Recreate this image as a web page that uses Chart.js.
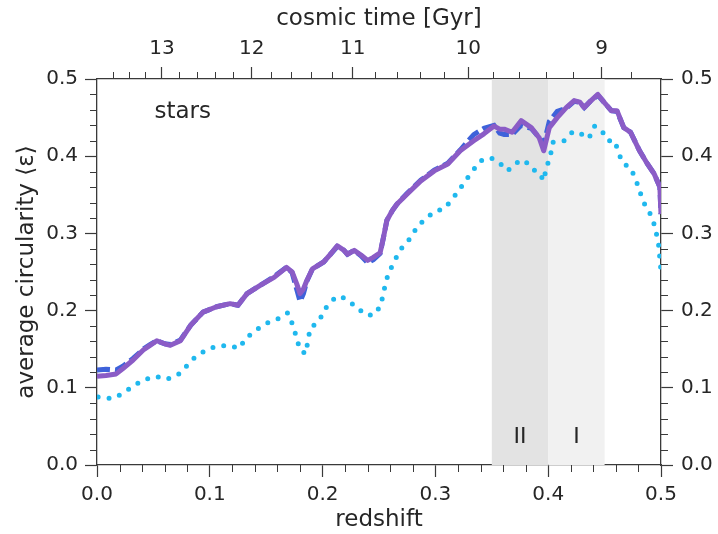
<!DOCTYPE html>
<html>
<head>
<meta charset="utf-8">
<script src="https://cdn.jsdelivr.net/npm/chart.js@4"></script>
<style>
  html, body { margin: 0; padding: 0; background: #fff; }
  #wrap { width: 718px; height: 534px; }
</style>
</head>
<body>
<div id="wrap"><canvas id="chart" width="718" height="534"></canvas></div>
<script>
// solid purple + dashed blue curves (redshift, circularity)
const zLine = [0.000, 0.008, 0.017, 0.023, 0.032, 0.041, 0.047, 0.053, 0.060, 0.065, 0.074, 0.083, 0.094, 0.106, 0.118, 0.125,
  0.133, 0.145, 0.157, 0.168, 0.173, 0.177, 0.180, 0.183, 0.186, 0.191, 0.201, 0.207, 0.213, 0.219, 0.222, 0.228, 0.234,
  0.240, 0.245, 0.251, 0.254, 0.257, 0.262, 0.266, 0.275, 0.287, 0.299, 0.311, 0.322, 0.334, 0.343, 0.352, 0.357, 0.361,
  0.368, 0.376, 0.385, 0.392, 0.396, 0.401, 0.408, 0.416, 0.423, 0.428, 0.432, 0.438, 0.444, 0.450, 0.456, 0.461, 0.467,
  0.473, 0.481, 0.488, 0.494, 0.499, 0.500];
const purpleVals = [0.115, 0.116, 0.118, 0.125, 0.136, 0.149, 0.155, 0.161, 0.157, 0.155, 0.161, 0.181, 0.198, 0.205, 0.209, 0.207,
  0.222, 0.233, 0.243, 0.256, 0.250, 0.235, 0.222, 0.228, 0.239, 0.254, 0.263, 0.273, 0.284, 0.278, 0.273, 0.278, 0.272,
  0.265, 0.269, 0.275, 0.295, 0.317, 0.330, 0.338, 0.351, 0.368, 0.381, 0.390, 0.407, 0.420, 0.429, 0.439, 0.435, 0.435,
  0.431, 0.446, 0.437, 0.424, 0.407, 0.437, 0.450, 0.463, 0.472, 0.470, 0.463, 0.472, 0.480, 0.469, 0.459, 0.459, 0.437,
  0.431, 0.407, 0.390, 0.377, 0.360, 0.325];
const blueVals = [0.123, 0.124, 0.123, 0.128, 0.138, 0.150, 0.156, 0.161, 0.157, 0.156, 0.162, 0.181, 0.198, 0.205, 0.209, 0.207,
  0.222, 0.233, 0.244, 0.256, 0.249, 0.228, 0.212, 0.222, 0.238, 0.254, 0.263, 0.273, 0.283, 0.278, 0.273, 0.278, 0.271,
  0.262, 0.266, 0.274, 0.295, 0.317, 0.330, 0.338, 0.352, 0.369, 0.382, 0.391, 0.408, 0.428, 0.436, 0.440, 0.430, 0.428,
  0.428, 0.440, 0.436, 0.424, 0.415, 0.445, 0.458, 0.462, 0.471, 0.470, 0.463, 0.472, 0.479, 0.469, 0.459, 0.458, 0.437,
  0.431, 0.407, 0.390, 0.377, 0.360, 0.325];

// dotted cyan curve
const zDot = [0.001, 0.013, 0.022, 0.032, 0.041, 0.052, 0.062, 0.072, 0.080, 0.087, 0.097, 0.106, 0.117, 0.126, 0.132, 0.141,
  0.151, 0.160, 0.169, 0.174, 0.177, 0.180, 0.185, 0.187, 0.189, 0.197, 0.202, 0.209, 0.216, 0.223, 0.231, 0.237, 0.245,
  0.251, 0.254, 0.256, 0.260, 0.265, 0.271, 0.278, 0.284, 0.292, 0.300, 0.308, 0.314, 0.320, 0.326, 0.333, 0.340, 0.349,
  0.357, 0.364, 0.371, 0.379, 0.386, 0.392, 0.396, 0.398, 0.402, 0.404, 0.414, 0.422, 0.429, 0.436, 0.441, 0.447, 0.453,
  0.459, 0.462, 0.466, 0.473, 0.477, 0.481, 0.484, 0.488, 0.493, 0.496, 0.498, 0.499, 0.500];
const cyanVals = [0.088, 0.086, 0.092, 0.102, 0.110, 0.115, 0.111, 0.117, 0.129, 0.140, 0.149, 0.154, 0.155, 0.151, 0.164, 0.175,
  0.184, 0.189, 0.197, 0.180, 0.164, 0.149, 0.144, 0.161, 0.177, 0.187, 0.202, 0.214, 0.219, 0.212, 0.204, 0.195, 0.194,
  0.205, 0.222, 0.238, 0.253, 0.268, 0.283, 0.294, 0.309, 0.320, 0.329, 0.332, 0.343, 0.354, 0.367, 0.381, 0.394, 0.398,
  0.391, 0.381, 0.391, 0.395, 0.383, 0.379, 0.368, 0.383, 0.401, 0.418, 0.420, 0.432, 0.429, 0.423, 0.439, 0.434, 0.420,
  0.420, 0.406, 0.391, 0.385, 0.372, 0.356, 0.341, 0.333, 0.317, 0.299, 0.284, 0.267, 0.251];

const zTicks = [0.0, 0.1, 0.2, 0.3, 0.4, 0.5];
const yTicks = [0.0, 0.1, 0.2, 0.3, 0.4, 0.5];
const timeTicks = [13, 12, 11, 10, 9];          // Gyr, top axis
const bands = [ { from: 0.35, to: 0.40, label: 'II', color: '#e3e3e3' },
                { from: 0.40, to: 0.45, label: 'I',  color: '#f1f1f1' } ];

const FONT = 'DejaVu Sans';
const INK = '#262626';
const AXIS = '#3a3a3a';

// flat LCDM age of universe at redshift z, used only to place the top axis ticks
function cosmicTime(z) {
  const H0inv = 977.8 / 67.7, om = 0.31, ol = 0.69;
  return 2 / (3 * Math.sqrt(ol)) * H0inv * Math.asinh(Math.sqrt(ol / om) * Math.pow(1 + z, -1.5));
}
function zOfTime(t) {
  let lo = 0, hi = 5;
  for (let i = 0; i < 60; i++) {
    const mid = (lo + hi) / 2;
    if (cosmicTime(mid) > t) lo = mid; else hi = mid;
  }
  return (lo + hi) / 2;
}

const pts = (xs, ys) => xs.map((x, i) => ({ x, y: ys[i] }));

const bandPlugin = {
  id: 'bands',
  beforeDatasetsDraw(chart) {
    const { ctx, chartArea: a, scales: { x, y } } = chart;
    ctx.save();
    bands.forEach(b => {
      const x0 = x.getPixelForValue(b.from), x1 = x.getPixelForValue(b.to);
      ctx.fillStyle = b.color;
      ctx.fillRect(x0, a.top, x1 - x0, a.bottom - a.top);
      ctx.fillStyle = INK;
      ctx.font = `22px "${FONT}"`;
      ctx.textAlign = 'center';
      ctx.textBaseline = 'middle';
      ctx.fillText(b.label, x.getPixelForValue((b.from + b.to) / 2), y.getPixelForValue(0.036));
    });
    ctx.font = `23px "${FONT}"`;
    ctx.textAlign = 'left';
    ctx.textBaseline = 'alphabetic';
    ctx.fillText('stars', x.getPixelForValue(0.051), y.getPixelForValue(0.450));
    ctx.restore();
  },
};

const minorTicks = {
  id: 'minorTicks',
  afterDraw(chart) {
    const { ctx, chartArea: a, scales } = chart;
    ctx.save();
    ctx.strokeStyle = AXIS;
    ctx.lineWidth = 1;
    const len = 7;
    ctx.beginPath();
    for (let i = 1; i < 25; i++) {
      if (i % 5 === 0) continue;
      const v = i * 0.02;
      const px = Math.round(scales.x.getPixelForValue(v)) + 0.5;
      ctx.moveTo(px, a.bottom); ctx.lineTo(px, a.bottom + len);
      const py = Math.round(scales.y.getPixelForValue(v)) + 0.5;
      ctx.moveTo(a.left, py); ctx.lineTo(a.left - len, py);
      ctx.moveTo(a.right, py); ctx.lineTo(a.right + len, py);
    }
    for (let t = 13.8; t > 8.5; t -= 0.2) {
      const tr = Math.round(t * 10) / 10;
      if (Math.abs(tr - Math.round(tr)) < 1e-6) continue;
      const z = zOfTime(tr);
      if (z <= 0.001 || z >= 0.5) continue;
      const px = Math.round(scales.x2.getPixelForValue(z)) + 0.5;
      ctx.moveTo(px, a.top); ctx.lineTo(px, a.top - len);
    }
    ctx.stroke();
    ctx.restore();
  },
};

function fixSize(prop, size) {
  return scale => { scale[prop] = size; };
}

const tickFont = { family: FONT, size: 20 };
const titleFont = { family: FONT, size: 23 };
const grid = { drawOnChartArea: false, tickLength: 12, tickColor: AXIS, tickWidth: 1.2 };
const border = { color: AXIS, width: 1.3 };

new Chart(document.getElementById('chart'), {
  type: 'line',
  data: {
    datasets: [
      { data: pts(zLine, purpleVals), borderColor: '#8b5cc6', borderWidth: 5, borderJoinStyle: 'round',
        pointRadius: 0, tension: 0 },
      { data: pts(zLine, blueVals), borderColor: '#3e62da', borderWidth: 5, borderDash: [13, 5],
        pointRadius: 0, tension: 0 },
      { data: pts(zDot, cyanVals), borderColor: '#1fb8ee', borderWidth: 5, borderDash: [0, 11],
        borderCapStyle: 'round', pointRadius: 0, tension: 0 },
    ],
  },
  options: {
    responsive: false,
    animation: false,
    layout: { padding: 0 },
    plugins: { legend: { display: false }, tooltip: { enabled: false } },
    scales: {
      x: {
        type: 'linear', position: 'bottom', min: 0, max: 0.5,
        afterBuildTicks: s => { s.ticks = zTicks.map(v => ({ value: v })); },
        afterFit: fixSize('height', 69),
        ticks: { font: tickFont, color: INK, padding: 6, maxRotation: 0, autoSkip: false, callback: v => v.toFixed(1) },
        grid, border,
        title: { display: true, text: 'redshift', font: titleFont, color: INK, padding: { top: 0, bottom: 0 } },
      },
      x2: {
        type: 'linear', position: 'top', min: 0, max: 0.5,
        afterBuildTicks: s => { s.ticks = timeTicks.map(t => ({ value: zOfTime(t) })); },
        afterFit: fixSize('height', 79),
        ticks: { font: tickFont, color: INK, padding: 6, maxRotation: 0, autoSkip: false,
                 callback: (v, i) => String(timeTicks[i]) },
        grid, border,
        title: { display: true, text: 'cosmic time [Gyr]', font: titleFont, color: INK, padding: { top: 5, bottom: 0 } },
      },
      y: {
        position: 'left', min: 0, max: 0.5,
        afterBuildTicks: s => { s.ticks = yTicks.map(v => ({ value: v })); },
        afterFit: fixSize('width', 97),
        ticks: { font: tickFont, color: INK, padding: 7, callback: v => v.toFixed(1) },
        grid, border,
        title: { display: true, text: 'average circularity ⟨ε⟩', font: titleFont, color: INK, padding: { top: 13, bottom: 0 } },
      },
      y2: {
        position: 'right', min: 0, max: 0.5,
        afterBuildTicks: s => { s.ticks = yTicks.map(v => ({ value: v })); },
        afterFit: fixSize('width', 57),
        ticks: { font: tickFont, color: INK, padding: 8, callback: v => v.toFixed(1) },
        grid, border,
      },
    },
  },
  plugins: [bandPlugin, minorTicks],
});
</script>
</body>
</html>
